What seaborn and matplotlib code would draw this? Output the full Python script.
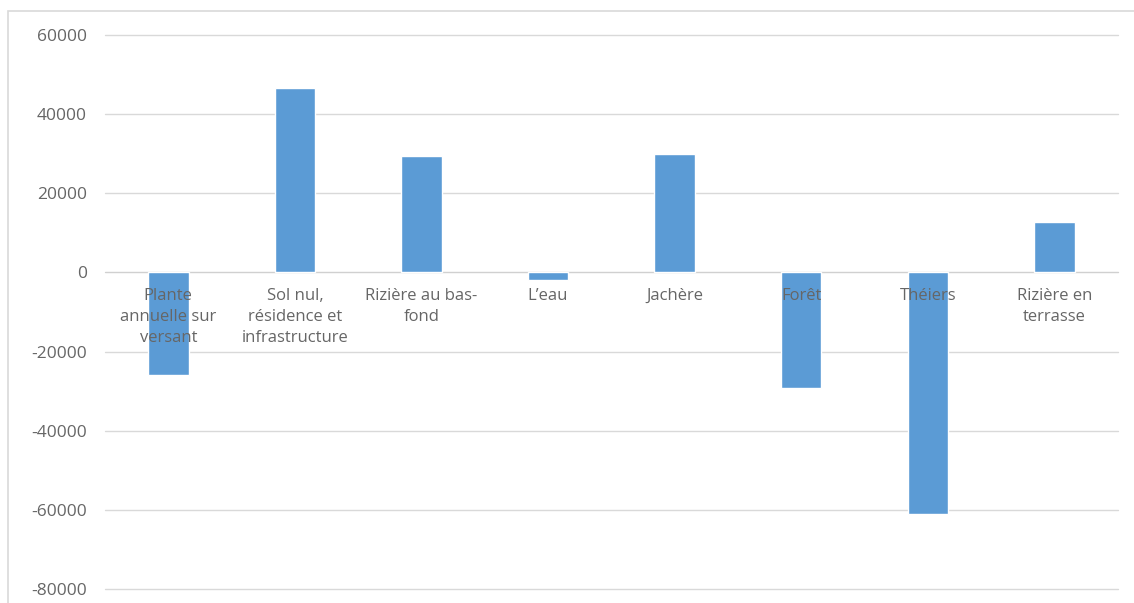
import numpy as np
import pandas as pd
import matplotlib
matplotlib.use("Agg")
import matplotlib.pyplot as plt
from matplotlib.patches import Rectangle
import seaborn as sns

# data
categories = ["Plante\nannuelle sur\nversant", "Sol nul,\nrésidence et\ninfrastructure",
              "Rizière au bas-\nfond", "L’eau", "Jachère", "Forêt", "Théiers",
              "Rizière en\nterrasse"]
values = [-26000, 46600, 29500, -2000, 29800, -29300, -61000, 12600]
y_ticks = [60000, 40000, 20000, 0, -20000, -40000, -60000, -80000]

sns.set_theme(style="white")
plt.rcParams['font.family'] = ['Open Sans', 'DejaVu Sans']

df = pd.DataFrame({"cat": categories, "val": values})

fig = plt.figure(figsize=(11.34, 6.03), dpi=100)
ax = fig.add_axes([0.0926, 0.0232, 0.893, 0.919])

# outer chart border (light gray frame like the Excel chart area)
fig.patches.append(Rectangle((8 / 1134, -0.05), 1.2, (603 - 11) / 603 + 0.05,
                             transform=fig.transFigure, fill=False,
                             edgecolor="#D9D9D9", linewidth=1.2, zorder=0))

sns.barplot(data=df, x="cat", y="val", color="#5B9BD5", saturation=1,
            width=0.32, ax=ax, zorder=2)

ax.set_ylim(-80000, 60000)
ax.set_xlim(-0.5, len(categories) - 0.5)
ax.set_yticks(y_ticks)
ax.set_yticklabels([str(t) for t in y_ticks], color="#666666", fontsize=12.5)
ax.tick_params(axis="y", length=0, pad=13)
ax.set_xticks([])
ax.set_xlabel("")
ax.set_ylabel("")
for s in ax.spines.values():
    s.set_visible(False)
for t in y_ticks:
    ax.axhline(t, color="#D9D9D9" if t != 0 else "#D0D0D0", linewidth=1,
               zorder=1, clip_on=False)

# category labels drawn just below the zero line, over the bars
for i, lab in enumerate(categories):
    ax.annotate(lab, xy=(i, 0), xytext=(0, -11), textcoords="offset points",
                ha="center", va="top", fontsize=12, color="#666666",
                linespacing=1.42, zorder=3)

fig.savefig("out.png", dpi=100)
